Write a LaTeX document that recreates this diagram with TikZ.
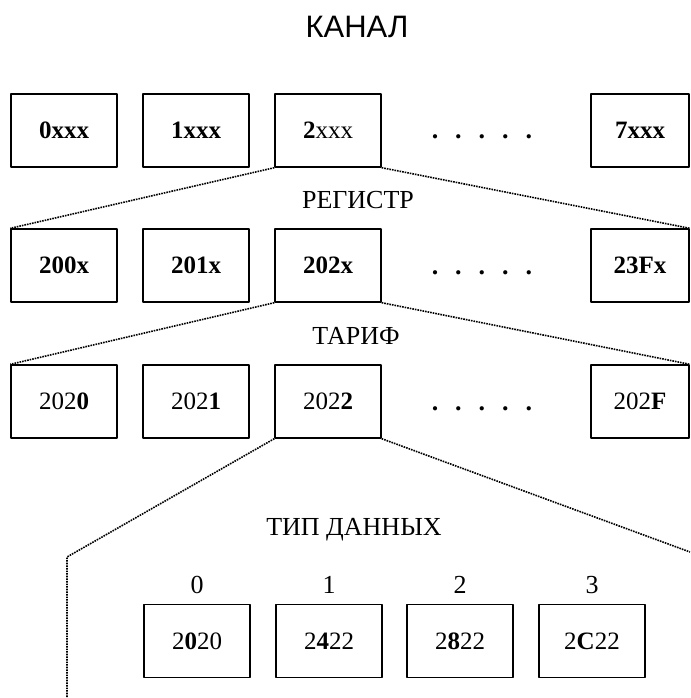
\documentclass[tikz,border=0pt]{standalone}
\usepackage{fontspec}
\setmainfont{Liberation Serif}
\newfontfamily\headfont{Liberation Sans}
\usetikzlibrary{positioning}
\tikzset{cell/.style={draw,line width=1.4pt,minimum width=106pt,minimum height=73pt,inner sep=0pt,font=\fontsize{25}{25}\selectfont},
  lastcell/.style={cell,minimum width=98pt},
  fan/.style={line width=1.6pt,dash pattern=on 1.6pt off 1pt},
  lvl/.style={font=\fontsize{26}{26}\selectfont,inner sep=0pt}}
\newcommand\gapdots{\textbf{.}\hskip17pt\textbf{.}\hskip17pt\textbf{.}\hskip17pt\textbf{.}\hskip17pt\textbf{.}}

\begin{document}
\begin{tikzpicture}[x=1pt,y=-1pt,line join=round]
\clip (0,0) rectangle (690,698);
% --- channel
\node[font=\headfont\fontsize{31}{31}\selectfont] (kanal) at (357,27) {КАНАЛ};
\node[cell] (k0) at (64,130.5) {\textbf{0xxx}};
\node[cell] (k1) at (196,130.5) {\textbf{1xxx}};
\node[cell] (k2) at (328,130.5) {\textbf{2}xxx};
\node[lvl,anchor=base] (kdots) at (482,139) {\gapdots};
\node[lastcell] (k7) at (640,130.5) {\textbf{7xxx}};
% --- register
\node[lvl] (regist) at (358,200) {РЕГИСТР};
\node[cell] (r0) at (64,265.5) {\textbf{200x}};
\node[cell] (r1) at (196,265.5) {\textbf{201x}};
\node[cell] (r2) at (328,265.5) {\textbf{202x}};
\node[lvl,anchor=base] (rdots) at (482,274) {\gapdots};
\node[lastcell] (r7) at (640,265.5) {\textbf{23Fx}};
\draw[fan] (k2.south west) -- (r0.north west);
\draw[fan] (k2.south east) -- (r7.north east);
% --- tariff
\node[lvl] (tarif) at (356,336) {ТАРИФ};
\node[cell] (t0) at (64,401.5) {202\textbf{0}};
\node[cell] (t1) at (196,401.5) {202\textbf{1}};
\node[cell] (t2) at (328,401.5) {202\textbf{2}};
\node[lvl,anchor=base] (tdots) at (482,410) {\gapdots};
\node[lastcell] (t7) at (640,401.5) {202\textbf{F}};
\draw[fan] (r2.south west) -- (t0.north west);
\draw[fan] (r2.south east) -- (t7.north east);
% --- data type
\node[lvl] (tip) at (354,530) {ТИП ДАННЫХ};
\node[cell] (d0) at (197,641) {2\textbf{0}20};
\node[cell] (d1) at (329,641) {2\textbf{4}22};
\node[cell] (d2) at (460,641) {2\textbf{8}22};
\node[cell] (d3) at (592,641) {2\textbf{C}22};
\node[lvl,above=10pt of d0] (n0) {0};
\node[lvl,above=10pt of d1] (n1) {1};
\node[lvl,above=10pt of d2] (n2) {2};
\node[lvl,above=10pt of d3] (n3) {3};
\coordinate (bend) at (67,557);
\coordinate (foot) at (67,698);
\coordinate (rim) at (690,552);
\draw[fan] (t2.south west) -- (bend) -- (foot);
\draw[fan] (t2.south east) -- (rim);
\end{tikzpicture}
\end{document}
